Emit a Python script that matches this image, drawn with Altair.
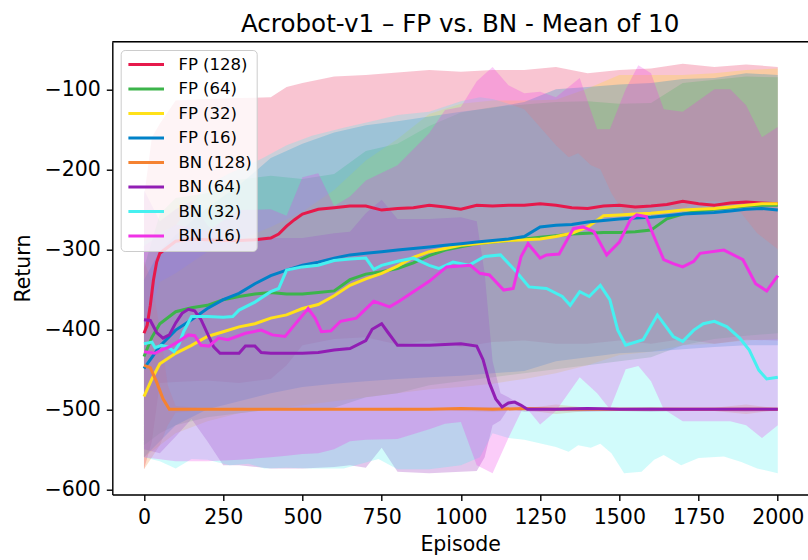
import altair as alt
import pandas as pd

TITLE = "Acrobot-v1 \u2013 FP vs. BN - Mean of 10"
SERIES = ["FP (128)", "FP (64)", "FP (32)", "FP (16)", "BN (128)", "BN (64)", "BN (32)", "BN (16)"]
COLORS = ["#e6194b", "#3cb44b", "#ffe119", "#0082c8", "#f58231", "#911eb4", "#46f0f0", "#f032e6"]
X_TICKS = [0, 250, 500, 750, 1000, 1250, 1500, 1750, 2000]
Y_TICKS = [-600, -500, -400, -300, -200, -100]

# ---------------- mean curves ----------------
fp128_ep = [0, 10, 20, 30, 40, 50, 100, 150, 200, 250, 300, 350, 400, 425, 450, 475, 500,
            550, 600, 650, 700, 750, 800, 850, 900, 950, 1000, 1050, 1100, 1150, 1200, 1250,
            1300, 1350, 1400, 1450, 1500, 1550, 1600, 1650, 1700, 1750, 1800, 1850, 1900, 1950, 2000]
fp128_mean = [-405, -395, -370, -338, -316, -305, -290, -287, -288, -289, -289, -288, -286, -281, -271, -263, -256,
              -250, -248, -246, -246, -251, -249, -248, -245, -247, -250, -245, -246, -245, -245, -243,
              -245, -248, -249, -246, -245, -247, -246, -244, -240, -243, -245, -242, -241, -242, -243]

fp_ep = [0, 25, 50, 100, 150, 200, 250, 300, 350, 400, 450, 500, 550, 600, 650, 700, 750, 800, 850, 900,
         950, 1000, 1050, 1100, 1150, 1200, 1250, 1300, 1350, 1400, 1450, 1500, 1550, 1600, 1650, 1700,
         1750, 1800, 1850, 1900, 1950, 2000]
fp64_mean = [-434, -410, -393, -378, -373, -370, -363, -359, -356, -354, -356, -356, -354, -352, -338, -331,
             -328, -324, -317, -308, -301, -297, -293, -291, -289, -287, -285, -283, -281, -280, -279, -279,
             -278, -276, -262, -256, -252, -250, -248, -246, -245, -245]
fp32_mean = [-484, -462, -443, -430, -420, -409, -403, -397, -393, -386, -382, -374, -369, -358, -345, -337,
             -330, -321, -310, -303, -299, -295, -293, -291, -289, -288, -287, -284, -280, -272, -258, -257,
             -256, -255, -253, -251, -250, -249, -247, -245, -243, -243]
fp16_mean = [-449, -435, -421, -401, -388, -374, -363, -355, -343, -333, -326, -320, -316, -311, -307, -305,
             -303, -301, -299, -297, -295, -293, -291, -289, -287, -284, -272, -270, -269, -266, -264, -262,
             -261, -260, -258, -256, -255, -254, -252, -250, -249, -251]

bn128_ep = [0, 20, 40, 60, 80, 100, 200, 300, 400, 500, 600, 700, 800, 900, 1000, 1100, 1200, 1300,
            1400, 1500, 1600, 1700, 1800, 1900, 2000]
bn128_mean = [-445, -448, -466, -487, -500, -500, -500, -500, -500, -500, -500, -500, -500, -500, -499,
              -500, -499, -500, -500, -500, -500, -500, -500, -500, -500]

bn64_ep = [0, 20, 40, 60, 80, 100, 120, 140, 160, 180, 200, 220, 240, 300, 320, 350, 370, 400, 450, 500,
           550, 600, 650, 700, 720, 750, 770, 800, 850, 900, 950, 1000, 1050, 1070, 1090, 1110, 1130,
           1150, 1170, 1190, 1210, 1300, 1400, 1500, 1600, 1700, 1800, 1900, 2000]
bn64_mean = [-388, -389, -404, -411, -407, -392, -380, -375, -377, -388, -405, -422, -430, -430, -421, -421,
             -429, -430, -430, -430, -429, -426, -424, -414, -400, -393, -404, -420, -420, -420, -419, -418,
             -421, -438, -467, -487, -497, -492, -491, -495, -500, -500, -499, -500, -500, -500, -500, -500, -500]

bn32_ep = [0, 25, 35, 55, 75, 95, 110, 125, 150, 200, 250, 280, 300, 350, 400, 425, 450, 500, 550, 600,
           650, 700, 725, 750, 800, 850, 900, 930, 975, 1025, 1075, 1125, 1175, 1215, 1270, 1320, 1345,
           1375, 1405, 1440, 1470, 1495, 1520, 1575, 1620, 1670, 1700, 1735, 1765, 1800, 1840, 1880,
           1910, 1940, 1965, 2000]
bn32_mean = [-418, -416, -423, -420, -422, -428, -419, -403, -384, -384, -385, -384, -376, -366, -353, -349,
             -326, -322, -320, -314, -312, -311, -325, -320, -315, -311, -320, -324, -316, -320, -309, -307,
             -328, -347, -349, -359, -370, -353, -359, -345, -363, -401, -420, -413, -382, -409, -415, -401,
             -393, -390, -397, -411, -426, -451, -462, -460]

bn16_ep = [0, 35, 55, 80, 110, 140, 160, 180, 205, 235, 265, 320, 370, 405, 445, 470, 518, 540, 560, 590,
           620, 670, 725, 775, 805, 850, 900, 955, 1030, 1060, 1090, 1135, 1165, 1190, 1212, 1250, 1270,
           1310, 1355, 1385, 1420, 1460, 1500, 1535, 1555, 1585, 1605, 1640, 1670, 1700, 1735, 1755,
           1830, 1890, 1930, 1965, 2000]
bn16_mean = [-428, -430, -426, -422, -415, -407, -408, -420, -421, -411, -413, -405, -401, -407, -409, -397,
             -374, -386, -403, -402, -390, -386, -365, -372, -365, -353, -340, -322, -320, -330, -332, -351,
             -349, -309, -293, -311, -307, -306, -274, -272, -278, -307, -291, -263, -257, -259, -280, -313,
             -318, -322, -315, -305, -301, -313, -343, -352, -333]

# ---------------- shaded spreads ----------------
fp128_band_ep = [0, 25, 50, 100, 200, 300, 400, 450, 500, 600, 700, 800, 900, 1000, 1100, 1200, 1300,
                 1400, 1500, 1600, 1700, 1800, 1900, 2000]
fp128_hi = [-235, -160, -143, -114, -112, -111, -110, -97, -92, -84, -82, -79, -76, -78, -76, -76, -72,
            -80, -76, -74, -68, -72, -69, -72]
fp128_lo = [-575, -540, -467, -466, -464, -467, -462, -445, -420, -412, -410, -419, -414, -422, -416, -414,
            -418, -418, -414, -418, -412, -418, -413, -414]

fp_band_ep = [0, 50, 100, 200, 300, 400, 500, 600, 700, 800, 900, 1000, 1100, 1200, 1300, 1400, 1500,
              1600, 1700, 1800, 1900, 2000]
fp64_hi = [-323, -256, -236, -230, -213, -208, -212, -206, -177, -168, -146, -129, -122, -119, -116, -115,
           -118, -117, -92, -88, -84, -85]
fp64_lo = [-545, -530, -520, -510, -505, -500, -500, -498, -485, -480, -470, -465, -460, -455, -450, -445,
           -440, -435, -420, -412, -408, -405]
fp32_hi = [-408, -341, -330, -303, -289, -272, -253, -226, -189, -162, -131, -118, -114, -114, -113, -99,
           -82, -82, -82, -80, -76, -74]
fp32_lo = [-560, -545, -530, -515, -505, -500, -495, -490, -485, -480, -475, -472, -468, -462, -455, -445,
           -432, -428, -420, -418, -414, -412]
fp16_hi = [-338, -302, -282, -248, -220, -186, -168, -154, -145, -140, -134, -128, -123, -116, -100, -97,
           -94, -92, -87, -86, -80, -82]
fp16_lo = [-560, -540, -520, -500, -490, -480, -472, -468, -465, -462, -460, -458, -455, -452, -440, -435,
           -430, -428, -425, -422, -420, -420]

bn128_band_ep = [0, 25, 50, 75, 100, 200, 300, 400, 500, 600, 700, 800, 900, 1000, 1100, 1200, 1300,
                 1400, 1500, 1600, 1700, 1800, 1900, 2000]
bn128_hi = [-315, -340, -400, -470, -496, -499, -498, -499, -498, -499, -499, -498, -499, -498, -497, -499,
            -494, -498, -499, -498, -499, -498, -494, -499]
bn128_lo = [-575, -560, -545, -520, -504, -501, -502, -501, -502, -501, -501, -502, -501, -502, -503, -501,
            -506, -502, -501, -502, -501, -502, -506, -501]

bn64_band_ep = [0, 50, 100, 150, 200, 250, 300, 400, 500, 600, 650, 700, 750, 800, 900, 1000, 1050, 1075,
                1100, 1125, 1150, 1200, 1300, 1400, 1500, 1600, 1700, 1800, 1900, 2000]
bn64_hi = [-226, -265, -250, -240, -270, -290, -290, -286, -286, -280, -278, -255, -238, -262, -262, -260,
           -265, -330, -440, -480, -485, -497, -498, -497, -498, -497, -498, -498, -497, -498]
bn64_lo = [-550, -555, -534, -512, -540, -570, -570, -574, -574, -572, -570, -573, -548, -578, -580, -578,
           -577, -560, -520, -514, -499, -503, -502, -503, -502, -503, -502, -502, -503, -502]

bn32_band_ep = [0, 50, 100, 150, 200, 270, 330, 380, 450, 530, 630, 740, 800, 900, 1000, 1060, 1100, 1150,
                1200, 1300, 1340, 1370, 1410, 1440, 1475, 1515, 1570, 1610, 1640, 1695, 1750, 1830, 1885,
                1935, 2000]
bn32_lo = [-560, -565, -574, -562, -563, -570, -568, -574, -573, -574, -574, -562, -575, -575, -570, -560,
           -530, -536, -538, -547, -553, -545, -548, -543, -555, -580, -578, -563, -557, -570, -561, -559,
           -566, -574, -580]
bn32_hi = [-290, -280, -270, -245, -220, -205, -195, -185, -170, -158, -148, -138, -132, -128, -115, -110,
           -112, -118, -125, -170, -185, -180, -195, -200, -230, -255, -250, -245, -245, -250, -240, -240,
           -255, -280, -300]

bn16_band_ep = [0, 100, 200, 300, 400, 450, 500, 550, 600, 650, 700, 800, 900, 950, 1000, 1050, 1100, 1150,
                1200, 1250, 1300, 1375, 1430, 1470, 1520, 1560, 1600, 1640, 1700, 1800, 1850, 1900, 1950, 2000]
bn16_hi = [-296, -269, -277, -251, -250, -258, -210, -205, -246, -234, -214, -195, -155, -126, -122, -90,
           -72, -95, -105, -103, -110, -86, -150, -150, -100, -70, -80, -125, -128, -100, -100, -120, -160, -147]
bn16_lo = [-560, -565, -565, -563, -560, -558, -556, -555, -550, -540, -538, -537, -525, -518, -516, -570,
           -580, -536, -495, -519, -502, -460, -480, -500, -450, -446, -465, -500, -515, -515, -515, -520, -536, -520]

MEANS = [(fp128_ep, fp128_mean), (fp_ep, fp64_mean), (fp_ep, fp32_mean), (fp_ep, fp16_mean),
         (bn128_ep, bn128_mean), (bn64_ep, bn64_mean), (bn32_ep, bn32_mean), (bn16_ep, bn16_mean)]
BANDS = [(fp128_band_ep, fp128_lo, fp128_hi), (fp_band_ep, fp64_lo, fp64_hi), (fp_band_ep, fp32_lo, fp32_hi),
         (fp_band_ep, fp16_lo, fp16_hi), (bn128_band_ep, bn128_lo, bn128_hi), (bn64_band_ep, bn64_lo, bn64_hi),
         (bn32_band_ep, bn32_lo, bn32_hi), (bn16_band_ep, bn16_lo, bn16_hi)]

for e, m in MEANS:
    assert len(e) == len(m), (len(e), len(m))
for e, lo, hi in BANDS:
    assert len(e) == len(lo) == len(hi), (len(e), len(lo), len(hi))

# ---------------- layout ----------------
PAD_L, PAD_T = 112.3, 41.7
PLOT_W = 808 - PAD_L
PLOT_H = 452.8
PAD_B = 560 - PAD_T - PLOT_H
X_MAX = -100 + PLOT_W / 0.3169
FONT = "DejaVu Sans"

x_scale = alt.Scale(domain=[-100, X_MAX], nice=False, zero=False)
y_scale = alt.Scale(domain=[-606.5, -40.5], nice=False, zero=False)

x_axis = alt.Axis(values=X_TICKS, format="d", title="Episode", grid=False,
                  labelFont=FONT, labelFontSize=20.5, labelColor="black", labelPadding=7,
                  labelFlush=False, labelOverlap=False,
                  tickSize=6, tickWidth=1.4, tickColor="black",
                  domainColor="black", domainWidth=1.4,
                  titleFont=FONT, titleFontSize=20.5, titleFontWeight="normal", titleColor="black",
                  titlePadding=6.5)
y_axis = alt.Axis(values=Y_TICKS, format="d", title="Return", grid=False,
                  labelFont=FONT, labelFontSize=20.5, labelColor="black", labelPadding=6,
                  labelFlush=False, labelOverlap=False,
                  tickSize=6, tickWidth=1.4, tickColor="black",
                  domainColor="black", domainWidth=1.4,
                  titleFont=FONT, titleFontSize=20.5, titleFontWeight="normal", titleColor="black",
                  titlePadding=10)

layers = []
for name, color, (e, lo, hi) in zip(SERIES, COLORS, BANDS):
    df = pd.DataFrame({"ep": e, "lo": lo, "hi": hi})
    layers.append(
        alt.Chart(df).mark_area(color=color, opacity=0.25).encode(
            x=alt.X("ep:Q", scale=x_scale, axis=x_axis),
            y=alt.Y("lo:Q", scale=y_scale, axis=y_axis),
            y2="hi:Q",
        )
    )

rows = []
for name, (e, m) in zip(SERIES, MEANS):
    for a, b in zip(e, m):
        rows.append({"series": name, "ep": a, "val": b})
lines_df = pd.DataFrame(rows)

legend = alt.Legend(title=None, orient="none", legendX=8.4, legendY=8.3,
                    symbolType="stroke", symbolSize=1267, symbolStrokeWidth=3,
                    clipHeight=20, rowPadding=4.5, padding=4.5,
                    symbolOffset=1.5, labelOffset=12.7,
                    labelFont=FONT, labelFontSize=16.5, labelColor="black",
                    fillColor="rgba(255,255,255,0.8)", strokeColor="#cccccc", cornerRadius=4)

layers.append(
    alt.Chart(lines_df).mark_line(strokeWidth=3).encode(
        x=alt.X("ep:Q", scale=x_scale, axis=x_axis),
        y=alt.Y("val:Q", scale=y_scale, axis=y_axis),
        color=alt.Color("series:N", scale=alt.Scale(domain=SERIES, range=COLORS), legend=legend),
    )
)

# top frame line of the plot area
layers.append(
    alt.Chart(pd.DataFrame({"a": [0]})).mark_rule(color="black", strokeWidth=1.4).encode(
        x=alt.value(0), x2=alt.value(PLOT_W), y=alt.value(0)
    )
)

chart = alt.layer(*layers).properties(
    width=PLOT_W,
    height=PLOT_H,
    padding={"left": PAD_L, "top": PAD_T, "right": 0, "bottom": PAD_B},
    autosize=alt.AutoSizeParams(type="none"),
    title=alt.Title(TITLE, font=FONT, fontSize=24.6, fontWeight="normal", color="black",
                    anchor="middle", offset=5.5, baseline="bottom", dy=26),
).configure_view(stroke=None).configure(background="white")

chart.save("out.html", embed_options={"renderer": "svg", "actions": False})
